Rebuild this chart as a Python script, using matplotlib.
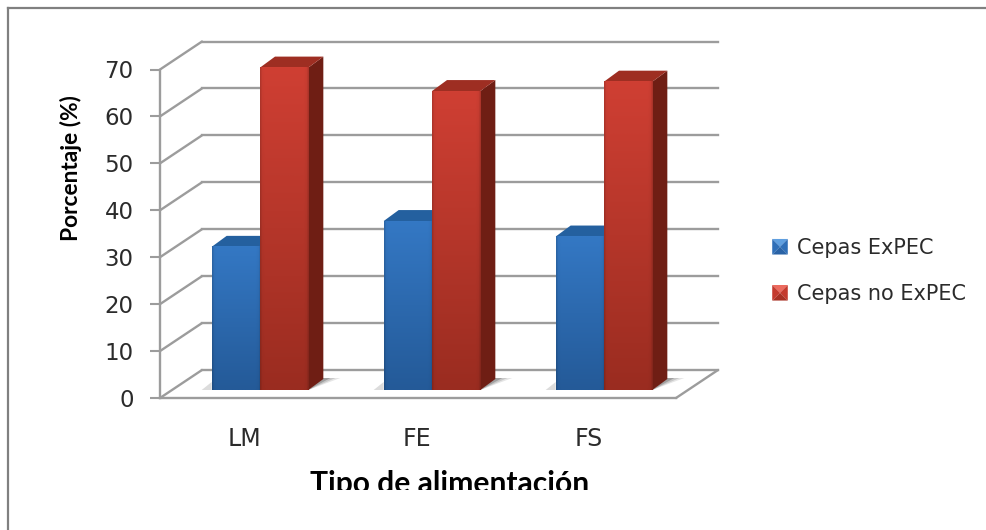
import numpy as np
import matplotlib
matplotlib.use("Agg")
import matplotlib.pyplot as plt
from matplotlib.lines import Line2D
from matplotlib.patches import Polygon, Patch
from matplotlib.transforms import Affine2D, Bbox
from matplotlib.colors import LinearSegmentedColormap
from matplotlib.legend_handler import HandlerBase

# Porcentaje de cepas por tipo de alimentación
categorias = ["LM", "FE", "FS"]
cepas_expec = [30.5, 36, 32.7]
cepas_no_expec = [68.7, 63.7, 65.7]
series = ["Cepas ExPEC", "Cepas no ExPEC"]
yticks = [0, 10, 20, 30, 40, 50, 60, 70]

W, H = 986, 530
fig = plt.figure(figsize=(W / 100, H / 100), dpi=100, facecolor="white")
ax = fig.add_axes([160 / W, 1 - 398 / H, 516 / W, 328.5 / H])
ax.set_xlim(0, 3)
ax.set_ylim(0, 70)
ax.patch.set_visible(False)

GRID = "#9c9c9c"
TEXT = "#2b2b2b"
WALL = (42, 28)     # fondo de la caja 3D, en píxeles
BAR_POS = (14, 8)   # plano frontal de las barras
BAR_DEPTH = (15, 11)
BAR_W = 0.281


def shifted(dx, dy):
    return ax.transData + Affine2D().translate(dx, dy)


back = shifted(*WALL)
line_style = dict(arrowstyle="-", color=GRID, lw=1.7, shrinkA=0, shrinkB=0)

# Cuadrícula del fondo y diagonales de la pared lateral
for v in yticks:
    ax.plot([0, 3], [v, v], color=GRID, lw=1.7, transform=back, clip_on=False, zorder=1)
    ax.annotate("", xy=(0, v), xycoords="data", xytext=WALL, textcoords="offset pixels",
                arrowprops=line_style, zorder=1)
# Cierre derecho del suelo
ax.annotate("", xy=(3, 0), xycoords="data", xytext=WALL, textcoords="offset pixels",
            arrowprops=line_style, zorder=1)

for s in ("top", "right"):
    ax.spines[s].set_visible(False)
for s in ("left", "bottom"):
    ax.spines[s].set_color(GRID)
    ax.spines[s].set_linewidth(1.7)

ax.set_yticks(yticks)
ax.set_xticks(np.arange(3) + 0.5 - 0.008)
ax.set_xticklabels(categorias)
ax.tick_params(axis="y", length=7, width=1.5, color=GRID, labelcolor=TEXT, labelsize=16.5, pad=12)
ax.tick_params(axis="x", length=0, labelcolor=TEXT, labelsize=17, pad=21)

cmap_blue = LinearSegmentedColormap.from_list("b", ["#245a98", "#2c69ae", "#3478c4"])
cmap_red = LinearSegmentedColormap.from_list("r", ["#9a2c20", "#b5362a", "#cf3f33"])
bar_rows = np.linspace(1, 0, 128)
# Oscurecimiento suave en los bordes laterales de cada barra
bar_edges = np.interp(np.linspace(0, 1, 48), [0, 0.04, 0.1, 0.9, 0.96, 1], [0.86, 0.98, 1, 1, 0.97, 0.84])


def px_poly(points, **kw):
    ax.add_patch(Polygon(points, closed=True, transform=None, edgecolor="none",
                         clip_on=False, **kw))


def bar3d(x0, value, cmap, top_col, side_col, shadow):
    off = shifted(*BAR_POS)
    offd = shifted(BAR_POS[0] + BAR_DEPTH[0], BAR_POS[1] + BAR_DEPTH[1])
    x1 = x0 + BAR_W
    if shadow == "right":
        (bx, by), = off.transform([(x1, 0)])
        for reach, grey in ((32, "#e6e6e6"), (27, "#c8c8c8"), (22, "#a0a0a0")):
            px_poly([(bx, by), (bx + reach, by + 12), (bx + 15, by + 12)], facecolor=grey, zorder=2)
    else:
        (bx, by), = off.transform([(x0, 0)])
        px_poly([(bx, by), (bx - 10, by), (bx, by + 8)], facecolor="#dcdcdc", zorder=2)
    # Cara frontal con degradado vertical
    rgb = cmap(bar_rows)[:, :3][:, None, :] * bar_edges[None, :, None]
    ax.imshow(rgb, extent=(x0, x1, 0, value), aspect="auto", transform=off,
              clip_on=False, zorder=4, interpolation="bilinear")
    # Cara lateral y cara superior
    front = off.transform([(x1, 0), (x1, value)])
    rear = offd.transform([(x1, value), (x1, 0)])
    px_poly(np.vstack([front, rear]), facecolor=side_col, zorder=3.5)
    top = off.transform([(x0, value), (x1, value)])
    topd = offd.transform([(x1, value), (x0, value)])
    px_poly(np.vstack([top, topd]), facecolor=top_col, zorder=3.6)


for i in range(len(categorias)):
    bar3d(i + 0.5 - BAR_W, cepas_expec[i], cmap_blue, "#24609f", "#1d4a80", "left")
    bar3d(i + 0.5, cepas_no_expec[i], cmap_red, "#9e2e22", "#6f1e14", "right")

ax.set_xlim(0, 3)
ax.set_ylim(0, 70)

# Títulos de los ejes
fig.text(71 / W, 1 - 168.5 / H, "Porcentaje (%)", rotation=90, ha="center", va="center",
         fontsize=16.4, fontweight="bold", family="Lato", color="black")
xl = fig.text(449.5 / W, 1 - 470 / H, "Tipo de alimentación", ha="center", va="top",
              fontsize=21.6, fontweight="bold", family="Lato", color="black")
xl.set_clip_box(Bbox([[0, H - 490], [W, H]]))
xl.set_clip_on(True)


class BevelHandler(HandlerBase):
    """Cuadro de leyenda con aspecto biselado."""

    def __init__(self, cols):
        super().__init__()
        self.cols = cols

    def create_artists(self, legend, orig, xd, yd, w, h, fs, trans):
        cx, cy = w / 2 - xd, h / 2 - yd
        s = 5.6
        c = [(cx - s, cy + s), (cx + s, cy + s), (cx + s, cy - s), (cx - s, cy - s)]
        arts = []
        for k, col in enumerate(self.cols):
            tri = [c[k], c[(k + 1) % 4], (cx, cy)]
            arts.append(Polygon(tri, closed=True, facecolor=col, edgecolor="none", transform=trans))
        return arts


handles = [Patch(label=series[0]), Patch(label=series[1])]
leg = fig.legend(handles=handles, labels=series, loc="center left",
                 bbox_to_anchor=(767.5 / W, 1 - 271 / H), frameon=False, fontsize=15,
                 labelcolor=TEXT, labelspacing=1.25, handlelength=1.2, handleheight=0.8,
                 handletextpad=0.2, borderpad=0, borderaxespad=0,
                 handler_map={handles[0]: BevelHandler(["#5f9fe0", "#2f6fb8", "#2a63a6", "#2f6fb8"]),
                              handles[1]: BevelHandler(["#ec6a5e", "#c43a2e", "#a83024", "#c43a2e"])})

# Marco del gráfico
for xs, ys in [((8, 8), (8, 530)), ((8, 986), (8, 8))]:
    fig.add_artist(Line2D([x / W for x in xs], [1 - y / H for y in ys], color="#808080", lw=1.6))

fig.savefig("out.png", dpi=100)
